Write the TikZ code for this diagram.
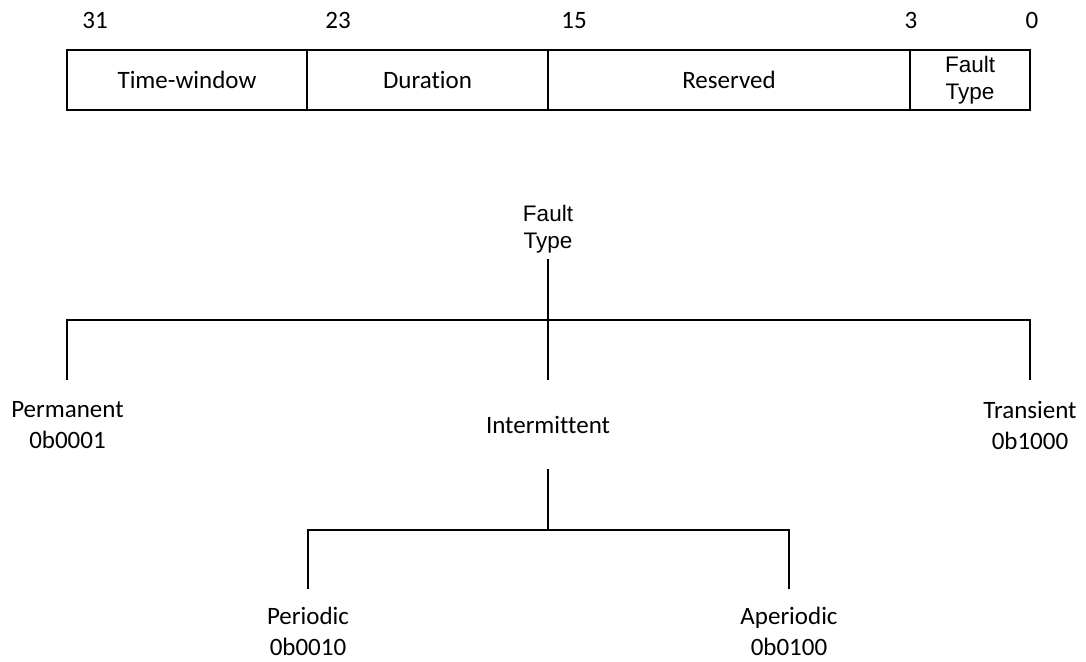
\documentclass[tikz,border=0pt]{standalone}
\usepackage{fontspec}
\setmainfont{Carlito}[Ligatures=NoCommon]
\newfontfamily\arialfont{Liberation Sans}
\begin{document}
\begin{tikzpicture}[x=1pt,y=-1pt,
  line width=1.2pt,
  txt/.style={font=\fontsize{25}{31}\selectfont, inner sep=0pt, align=center},
  bitno/.style={txt, anchor=base},
  arialtxt/.style={font=\arialfont\fontsize{22.5}{27}\selectfont, inner sep=0pt, align=center},
  field/.style={draw, minimum height=60pt, inner sep=0pt}]
\useasboundingbox (0,0) rectangle (1086,661);

% register layout: bit fields
\node[field, minimum width=240pt, txt] (tw)  at (187,80)   {Time-window};
\node[field, minimum width=241pt, txt] (dur) at (427.5,80) {Duration};
\node[field, minimum width=362pt, txt] (res) at (729,80)   {Reserved};
\node[field, minimum width=120pt, arialtxt] (ftf) at (970,80) {Fault\\Type};

% bit positions
\node[bitno] (b31) at (95,29)   {31};
\node[bitno] (b23) at (338,29)  {23};
\node[bitno] (b15) at (574,29)  {15};
\node[bitno] (b3)  at (911,29)  {3};
\node[bitno] (b0)  at (1032,29) {0};

% fault type tree
\node[arialtxt] (ft) at (548,229) {Fault\\Type};
\node[txt] (perm) at (67.5,425)  {Permanent\\0b0001};
\node[txt] (int)  at (548,424.5) {Intermittent};
\node[txt] (tran) at (1030,425)  {Transient\\0b1000};
\node[txt] (per)  at (308,631) {Periodic\\0b0010};
\node[txt] (aper) at (789,631) {Aperiodic\\0b0100};

\coordinate (ftEnd) at (548,259);
\coordinate (barL) at (67,320);
\coordinate (barR) at (1030,320);
\coordinate (dropP) at (67,380);
\coordinate (dropT) at (1030,380);
\coordinate (dropI) at (548,380);
\draw (ftEnd) -- (dropI);
\draw (dropP) -- (barL) -- (barR) -- (dropT);

\coordinate (stemI) at (548,469);
\coordinate (bar2L) at (308,530);
\coordinate (bar2R) at (789,530);
\coordinate (dropPer) at (308,589);
\coordinate (dropAper) at (789,589);
\coordinate (bar2M) at (548,530);
\draw (stemI) -- (bar2M);
\draw (dropPer) -- (bar2L) -- (bar2R) -- (dropAper);
\end{tikzpicture}
\end{document}
